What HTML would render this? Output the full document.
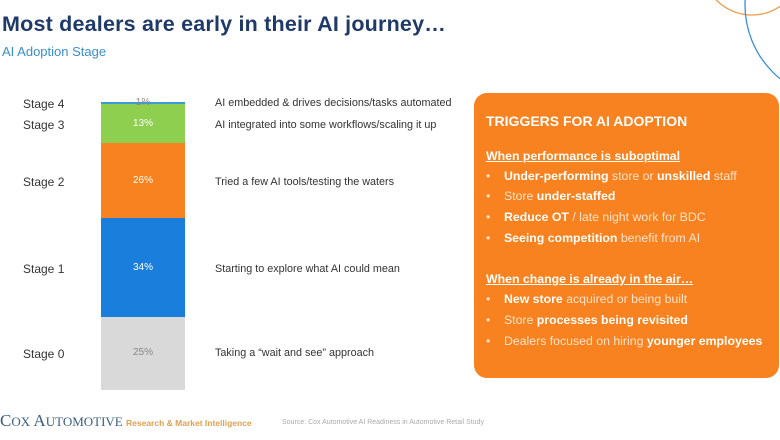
<!DOCTYPE html>
<html><head><meta charset="utf-8"><style>
body{margin:0;width:780px;height:440px;background:#fff;position:relative;overflow:hidden;font-family:"Liberation Sans",Arial,sans-serif}
.a{position:absolute;white-space:nowrap}
.st{font-size:12px;color:#333;left:23px}
.ds{font-size:10.8px;color:#333;left:215px}
.pc{font-size:10px;color:#fff;left:101px;width:84px;text-align:center}
.box{position:absolute;left:474px;top:93px;width:305px;height:285px;background:#f7821f;border-radius:13px;color:#fde3cc}
.box .a{font-size:12.3px}
.box b{color:#fff}
.h{font-weight:bold;text-decoration:underline;color:#fff}
</style></head><body>
<svg class="a" style="left:0;top:0" width="780" height="440">
<circle cx="752" cy="-35" r="50" fill="none" stroke="#e8a055" stroke-width="1.3"/>
<circle cx="840" cy="5" r="95" fill="none" stroke="#3b8fd8" stroke-width="1.3"/>
<rect x="101" y="102" width="84" height="3" fill="#3d9ad6"/>
<rect x="101" y="104" width="84" height="39" fill="#8fcf4f"/>
<rect x="101" y="143" width="84" height="75" fill="#f7821f"/>
<rect x="101" y="218" width="84" height="99" fill="#1a7fdc"/>
<rect x="101" y="317" width="84" height="73" fill="#d9d9d9"/>
</svg>
<div class="a" style="left:2px;top:12px;font-size:21.5px;font-weight:bold;color:#1f3a68;letter-spacing:0.2px">Most dealers are early in their AI journey…</div>
<div class="a" style="left:2px;top:44px;font-size:13px;color:#3a8fd0">AI Adoption Stage</div>
<div class="a st" style="top:97px">Stage 4</div>
<div class="a st" style="top:118px">Stage 3</div>
<div class="a st" style="top:175px">Stage 2</div>
<div class="a st" style="top:262px">Stage 1</div>
<div class="a st" style="top:347px">Stage 0</div>
<div class="a pc" style="top:97px;color:#888">1%</div>
<div class="a pc" style="top:118px">13%</div>
<div class="a pc" style="top:175px">26%</div>
<div class="a pc" style="top:262px">34%</div>
<div class="a pc" style="top:347px;color:#888">25%</div>
<div class="a ds" style="top:97px">AI embedded &amp; drives decisions/tasks automated</div>
<div class="a ds" style="top:119px">AI integrated into some workflows/scaling it up</div>
<div class="a ds" style="top:176px">Tried a few AI tools/testing the waters</div>
<div class="a ds" style="top:263px">Starting to explore what AI could mean</div>
<div class="a ds" style="top:347px">Taking a “wait and see” approach</div>
<div class="box">
<div class="a" style="left:12px;top:20px;font-size:14px!important;font-weight:bold;color:#fff">TRIGGERS FOR AI ADOPTION</div>
<div class="a h" style="left:12px;top:56px">When performance is suboptimal</div>
<div class="a" style="left:12px;top:76px">•&nbsp;&nbsp;&nbsp;&nbsp;<b>Under-performing</b> store or <b>unskilled</b> staff</div>
<div class="a" style="left:12px;top:96px">•&nbsp;&nbsp;&nbsp;&nbsp;Store <b>under-staffed</b></div>
<div class="a" style="left:12px;top:117px">•&nbsp;&nbsp;&nbsp;&nbsp;<b>Reduce OT</b> / late night work for BDC</div>
<div class="a" style="left:12px;top:138px">•&nbsp;&nbsp;&nbsp;&nbsp;<b>Seeing competition</b> benefit from AI</div>
<div class="a h" style="left:12px;top:179px">When change is already in the air…</div>
<div class="a" style="left:12px;top:199px">•&nbsp;&nbsp;&nbsp;&nbsp;<b>New store</b> acquired or being built</div>
<div class="a" style="left:12px;top:220px">•&nbsp;&nbsp;&nbsp;&nbsp;Store <b>processes being revisited</b></div>
<div class="a" style="left:12px;top:241px">•&nbsp;&nbsp;&nbsp;&nbsp;Dealers focused on hiring <b>younger employees</b></div>
</div>
<div class="a" style="left:0;top:411px;font-family:'Liberation Serif',serif;font-size:17px;color:#3a5f80">C<span style="font-size:13px">OX</span> A<span style="font-size:13px">UTOMOTIVE</span></div>
<div class="a" style="left:126px;top:418px;font-size:8.5px;font-weight:bold;color:#e0a050">Research &amp; Market Intelligence</div>
<div class="a" style="left:282px;top:419px;font-size:7px;color:#aaa">Source: Cox Automotive AI Readiness in Automotive Retail Study</div>
</body></html>
